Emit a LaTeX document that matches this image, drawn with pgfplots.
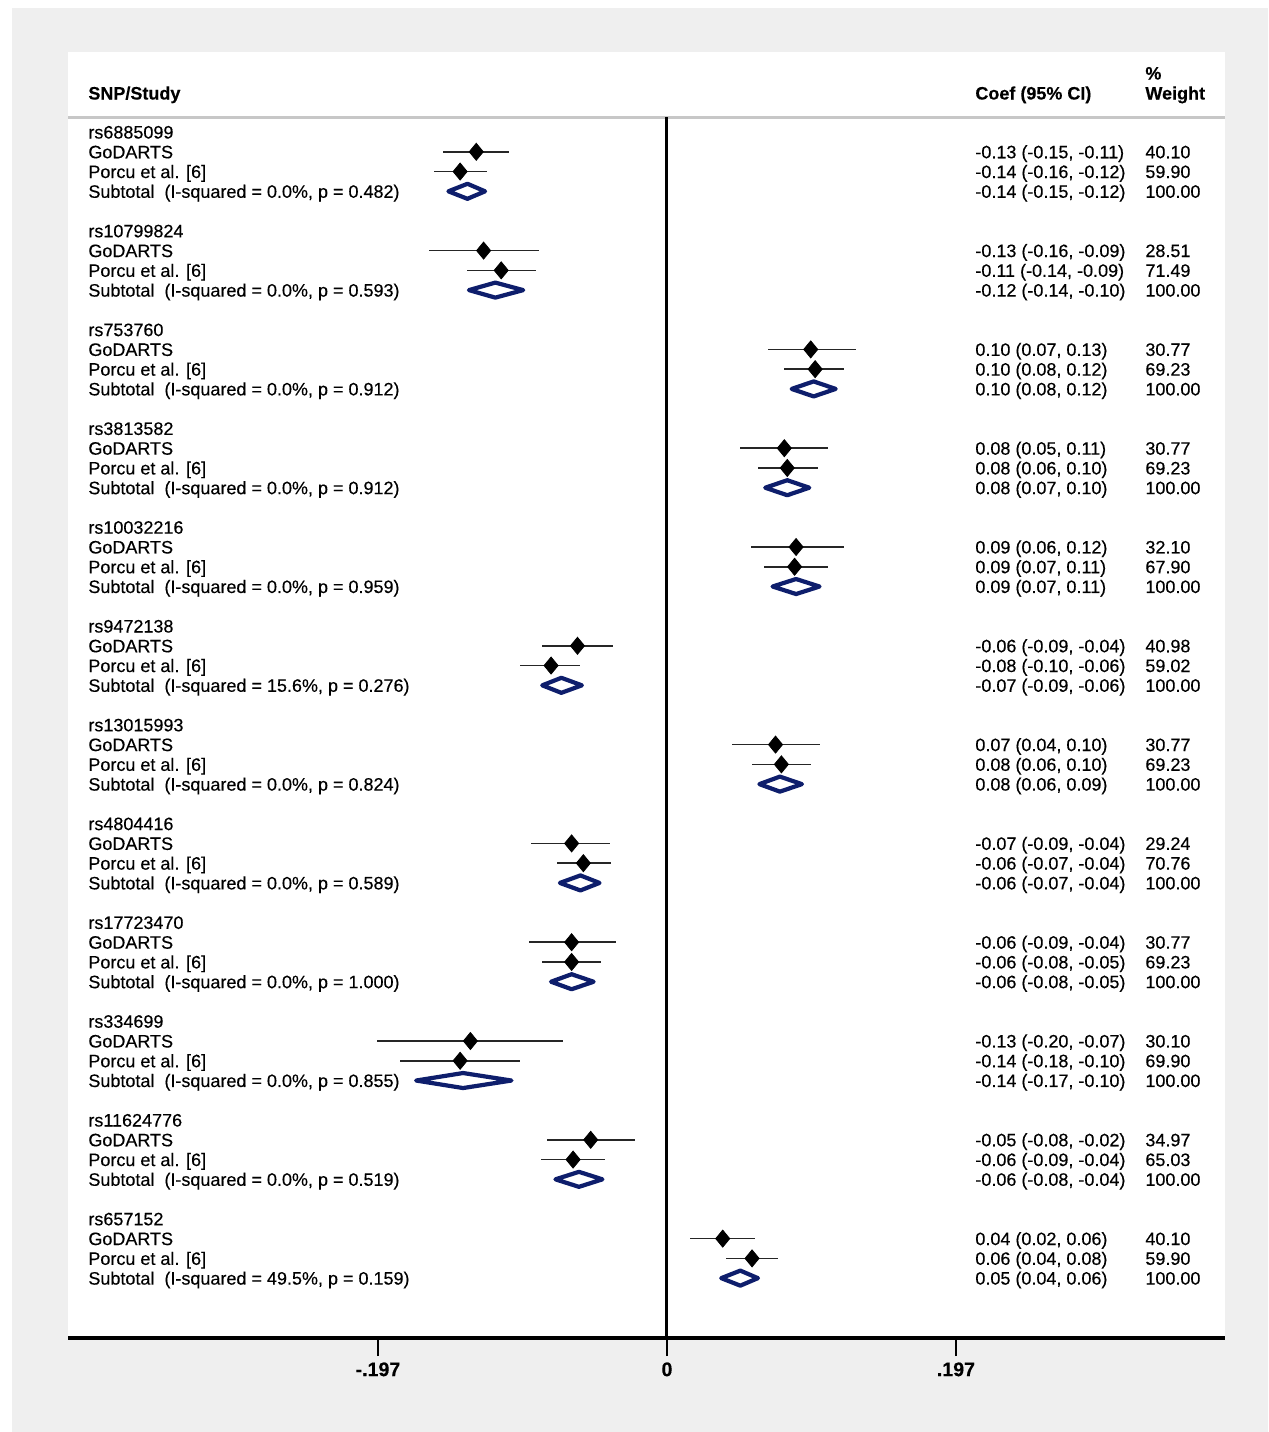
\documentclass[border=0pt]{standalone}
\usepackage{pgfplots}
\usepackage{pgfplotstable}
\pgfplotsset{compat=1.18}
\usepackage{fontspec}
\setmainfont{Liberation Sans}[FakeBold=0.3]
\newfontfamily\tickfont{Liberation Sans}[FakeBold=0.3]
\definecolor{stnavy}{RGB}{14,30,108}
\definecolor{panelgray}{RGB}{239,239,239}

% study estimates: y = -row, est, lower, upper
\pgfplotstableread{
y est lo hi
-1 -0.130 -0.153 -0.108
-2 -0.141 -0.159 -0.123
-6 -0.125 -0.162 -0.087
-7 -0.113 -0.136 -0.089
-11 0.098 0.069 0.129
-12 0.101 0.080 0.121
-16 0.080 0.050 0.110
-17 0.082 0.062 0.103
-21 0.088 0.057 0.121
-22 0.087 0.066 0.110
-26 -0.061 -0.085 -0.037
-27 -0.079 -0.100 -0.059
-31 0.074 0.044 0.104
-32 0.078 0.058 0.098
-36 -0.065 -0.093 -0.039
-37 -0.057 -0.075 -0.038
-41 -0.065 -0.094 -0.035
-42 -0.065 -0.085 -0.045
-46 -0.134 -0.198 -0.071
-47 -0.141 -0.182 -0.100
-51 -0.052 -0.082 -0.022
-52 -0.064 -0.086 -0.042
-56 0.038 0.016 0.060
-57 0.058 0.040 0.076
}\studies

\tikzset{lbl/.style={anchor=base west, inner sep=0pt, font=\fontsize{9}{10}\selectfont}}

\newcommand\lefttext[4]{%
  \pgfmathsetmacro\by{138.5+98.8*#1}%
  \node[lbl] at (88,\by) {#2};
  \node[lbl] at (88,{\by+19.76}) {GoDARTS};
  \node[lbl] at (88,{\by+39.52}) {Porcu et al. [6]};
  \node[lbl] at (88,{\by+59.28}) {Subtotal\ \ (I-squared = #3\%, p = #4)};
}
\newcommand\righttext[7]{%
  \pgfmathsetmacro\by{138.5+98.8*#1}%
  \node[lbl] at (975,{\by+19.76}) {#2};
  \node[lbl] at (1145,{\by+19.76}) {#3};
  \node[lbl] at (975,{\by+39.52}) {#4};
  \node[lbl] at (1145,{\by+39.52}) {#5};
  \node[lbl] at (975,{\by+59.28}) {#6};
  \node[lbl] at (1145,{\by+59.28}) {#7};
}

\begin{document}
\begin{tikzpicture}
\begin{scope}[x=0.5pt, y=-0.5pt]
  \fill[white] (0,0) rectangle (1269,1432);
  \fill[panelgray] (12,8) rectangle (1268,1432);
  \fill[white] (68,52) rectangle (1225,1338);
  \draw[line width=1.5pt, black!22] (68,117) -- (1225,117);
\end{scope}

\begin{axis}[
    at={(34pt,-669pt)}, anchor=south west,
    scale only axis, width=578.5pt, height=643pt,
    xmin=-0.4083, xmax=0.3804,
    ymin=-61.03, ymax=4.05,
    axis x line*=bottom, axis y line=none,
    x axis line style={line width=1.7pt, -},
    xtick={-0.197,0,0.197},
    xticklabels={-.197,0,.197},
    tick align=outside,
    major tick length=9pt,
    tick style={line width=1pt, black},
    xticklabel style={font=\tickfont\fontsize{9.8}{11}\selectfont\bfseries, inner sep=3pt},
    clip=false,
]
% reference line at zero
\addplot[black, line width=1.5pt, no marks] coordinates {(0,0.76) (0,-61.03)};

% study estimates with 95% CI
\addplot[only marks, mark=diamond*, mark size=4.25pt, black,
    mark options={xscale=1.1},
    error bars/.cd, x dir=both, x explicit,
    error bar style={line width=0.8pt, black!85}, error mark=none]
  table[x=est, y=y,
        x error plus expr=\thisrow{hi}-\thisrow{est},
        x error minus expr=\thisrow{est}-\thisrow{lo}] {\studies};

% subtotal diamonds
\pgfplotsset{sub/.style={stnavy, line width=2.1pt, line join=round, no marks}}
\addplot[sub] coordinates {(-0.149,-3) (-0.136,-2.62) (-0.124,-3) (-0.136,-3.38)} -- cycle;
\addplot[sub] coordinates {(-0.135,-8) (-0.117,-7.62) (-0.098,-8) (-0.117,-8.38)} -- cycle;
\addplot[sub] coordinates {(0.085,-13) (0.100,-12.62) (0.115,-13) (0.100,-13.38)} -- cycle;
\addplot[sub] coordinates {(0.067,-18) (0.082,-17.62) (0.097,-18) (0.082,-18.38)} -- cycle;
\addplot[sub] coordinates {(0.072,-23) (0.088,-22.62) (0.104,-23) (0.088,-23.38)} -- cycle;
\addplot[sub] coordinates {(-0.085,-28) (-0.072,-27.62) (-0.058,-28) (-0.072,-28.38)} -- cycle;
\addplot[sub] coordinates {(0.063,-33) (0.077,-32.62) (0.092,-33) (0.077,-33.38)} -- cycle;
\addplot[sub] coordinates {(-0.073,-38) (-0.059,-37.62) (-0.046,-38) (-0.059,-38.38)} -- cycle;
\addplot[sub] coordinates {(-0.079,-43) (-0.065,-42.62) (-0.050,-43) (-0.065,-43.38)} -- cycle;
\addplot[sub] coordinates {(-0.171,-48) (-0.139,-47.62) (-0.106,-48) (-0.139,-48.38)} -- cycle;
\addplot[sub] coordinates {(-0.076,-53) (-0.060,-52.62) (-0.044,-53) (-0.060,-53.38)} -- cycle;
\addplot[sub] coordinates {(0.037,-58) (0.050,-57.62) (0.062,-58) (0.050,-58.38)} -- cycle;
\end{axis}

\begin{scope}[x=0.5pt, y=-0.5pt]
  \node[lbl, font=\fontsize{9}{10}\selectfont\bfseries] at (88,99.5) {SNP/Study};
  \node[lbl, font=\fontsize{9}{10}\selectfont\bfseries] at (975,99.5) {Coef (95\% CI)};
  \node[lbl, font=\fontsize{9}{10}\selectfont\bfseries] at (1145,79.5) {\%};
  \node[lbl, font=\fontsize{9}{10}\selectfont\bfseries] at (1145,99.5) {Weight};

  \lefttext{0}{rs6885099}{0.0}{0.482}
  \lefttext{1}{rs10799824}{0.0}{0.593}
  \lefttext{2}{rs753760}{0.0}{0.912}
  \lefttext{3}{rs3813582}{0.0}{0.912}
  \lefttext{4}{rs10032216}{0.0}{0.959}
  \lefttext{5}{rs9472138}{15.6}{0.276}
  \lefttext{6}{rs13015993}{0.0}{0.824}
  \lefttext{7}{rs4804416}{0.0}{0.589}
  \lefttext{8}{rs17723470}{0.0}{1.000}
  \lefttext{9}{rs334699}{0.0}{0.855}
  \lefttext{10}{rs11624776}{0.0}{0.519}
  \lefttext{11}{rs657152}{49.5}{0.159}

  \righttext{0}{-0.13 (-0.15, -0.11)}{40.10}{-0.14 (-0.16, -0.12)}{59.90}{-0.14 (-0.15, -0.12)}{100.00}
  \righttext{1}{-0.13 (-0.16, -0.09)}{28.51}{-0.11 (-0.14, -0.09)}{71.49}{-0.12 (-0.14, -0.10)}{100.00}
  \righttext{2}{0.10 (0.07, 0.13)}{30.77}{0.10 (0.08, 0.12)}{69.23}{0.10 (0.08, 0.12)}{100.00}
  \righttext{3}{0.08 (0.05, 0.11)}{30.77}{0.08 (0.06, 0.10)}{69.23}{0.08 (0.07, 0.10)}{100.00}
  \righttext{4}{0.09 (0.06, 0.12)}{32.10}{0.09 (0.07, 0.11)}{67.90}{0.09 (0.07, 0.11)}{100.00}
  \righttext{5}{-0.06 (-0.09, -0.04)}{40.98}{-0.08 (-0.10, -0.06)}{59.02}{-0.07 (-0.09, -0.06)}{100.00}
  \righttext{6}{0.07 (0.04, 0.10)}{30.77}{0.08 (0.06, 0.10)}{69.23}{0.08 (0.06, 0.09)}{100.00}
  \righttext{7}{-0.07 (-0.09, -0.04)}{29.24}{-0.06 (-0.07, -0.04)}{70.76}{-0.06 (-0.07, -0.04)}{100.00}
  \righttext{8}{-0.06 (-0.09, -0.04)}{30.77}{-0.06 (-0.08, -0.05)}{69.23}{-0.06 (-0.08, -0.05)}{100.00}
  \righttext{9}{-0.13 (-0.20, -0.07)}{30.10}{-0.14 (-0.18, -0.10)}{69.90}{-0.14 (-0.17, -0.10)}{100.00}
  \righttext{10}{-0.05 (-0.08, -0.02)}{34.97}{-0.06 (-0.09, -0.04)}{65.03}{-0.06 (-0.08, -0.04)}{100.00}
  \righttext{11}{0.04 (0.02, 0.06)}{40.10}{0.06 (0.04, 0.08)}{59.90}{0.05 (0.04, 0.06)}{100.00}
\end{scope}
\end{tikzpicture}
\end{document}
